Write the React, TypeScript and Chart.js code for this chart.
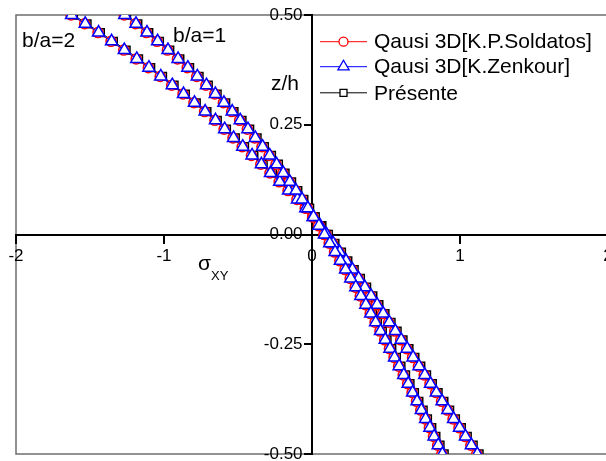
import { useEffect, useRef } from 'react';
import { Chart, registerables } from 'chart.js';

Chart.register(...registerables);

// z/h positions of the markers (top to bottom)
const zH = [0.5, 0.48, 0.46, 0.44, 0.42, 0.4, 0.38, 0.36, 0.34, 0.32, 0.3, 0.28, 0.26, 0.24, 0.22, 0.2, 0.18, 0.16, 0.14, 0.12, 0.1, 0.08, 0.06, 0.04, 0.02, 0, -0.02, -0.04, -0.06, -0.08, -0.1, -0.12, -0.14, -0.16, -0.18, -0.2, -0.22, -0.24, -0.26, -0.28, -0.3, -0.32, -0.34, -0.36, -0.38, -0.4, -0.42, -0.44, -0.46, -0.48, -0.5];

// sigma_xy, b/a = 1
const soldatos1 = [-1.269, -1.193, -1.119, -1.047, -0.977, -0.909, -0.843, -0.779, -0.717, -0.657, -0.599, -0.543, -0.489, -0.437, -0.387, -0.338, -0.29, -0.243, -0.198, -0.154, -0.112, -0.071, -0.032, 0.006, 0.043, 0.08, 0.116, 0.152, 0.188, 0.223, 0.258, 0.292, 0.326, 0.36, 0.393, 0.426, 0.459, 0.491, 0.523, 0.554, 0.585, 0.616, 0.646, 0.676, 0.706, 0.735, 0.764, 0.793, 0.821, 0.849, 0.877];
const zenkour1 = [-1.265, -1.189, -1.115, -1.043, -0.973, -0.905, -0.839, -0.775, -0.713, -0.653, -0.595, -0.539, -0.485, -0.433, -0.383, -0.334, -0.286, -0.239, -0.194, -0.15, -0.108, -0.067, -0.028, 0.01, 0.047, 0.084, 0.12, 0.156, 0.192, 0.227, 0.262, 0.296, 0.33, 0.364, 0.397, 0.43, 0.463, 0.495, 0.527, 0.558, 0.589, 0.62, 0.65, 0.68, 0.71, 0.739, 0.768, 0.797, 0.825, 0.853, 0.881];
const presente1 = [-1.253, -1.177, -1.103, -1.031, -0.961, -0.893, -0.827, -0.763, -0.701, -0.641, -0.583, -0.527, -0.473, -0.421, -0.371, -0.322, -0.274, -0.227, -0.182, -0.138, -0.096, -0.055, -0.016, 0.022, 0.059, 0.096, 0.132, 0.168, 0.204, 0.239, 0.274, 0.308, 0.342, 0.376, 0.409, 0.442, 0.475, 0.507, 0.539, 0.57, 0.601, 0.632, 0.662, 0.692, 0.722, 0.751, 0.78, 0.809, 0.837, 0.865, 0.893];

// sigma_xy, b/a = 2
const soldatos2 = [-1.628, -1.536, -1.446, -1.358, -1.272, -1.188, -1.106, -1.026, -0.948, -0.872, -0.798, -0.726, -0.656, -0.594, -0.534, -0.472, -0.409, -0.346, -0.284, -0.222, -0.162, -0.102, -0.046, 0.004, 0.051, 0.095, 0.139, 0.183, 0.226, 0.269, 0.311, 0.353, 0.395, 0.436, 0.477, 0.518, 0.559, 0.599, 0.639, 0.679, 0.719, 0.758, 0.797, 0.836, 0.875, 0.914, 0.953, 0.993, 1.033, 1.073, 1.113];
const zenkour2 = [-1.624, -1.532, -1.442, -1.354, -1.268, -1.184, -1.102, -1.022, -0.944, -0.868, -0.794, -0.722, -0.652, -0.59, -0.53, -0.468, -0.405, -0.342, -0.28, -0.218, -0.158, -0.098, -0.042, 0.008, 0.055, 0.099, 0.143, 0.187, 0.23, 0.273, 0.315, 0.357, 0.399, 0.44, 0.481, 0.522, 0.563, 0.603, 0.643, 0.683, 0.723, 0.762, 0.801, 0.84, 0.879, 0.918, 0.957, 0.997, 1.037, 1.077, 1.117];
const presente2 = [-1.612, -1.52, -1.43, -1.342, -1.256, -1.172, -1.09, -1.01, -0.932, -0.856, -0.782, -0.71, -0.64, -0.578, -0.518, -0.456, -0.393, -0.33, -0.268, -0.206, -0.146, -0.086, -0.03, 0.02, 0.067, 0.111, 0.155, 0.199, 0.242, 0.285, 0.327, 0.369, 0.411, 0.452, 0.493, 0.534, 0.575, 0.615, 0.655, 0.695, 0.735, 0.774, 0.813, 0.852, 0.891, 0.93, 0.969, 1.009, 1.049, 1.089, 1.129];

const seriesNames = ['Qausi 3D[K.P.Soldatos]', 'Qausi 3D[K.Zenkour]', 'Présente'];
const seriesColors = ['#ff0000', '#0000ff', '#000000'];
const seriesMarkers = ['circle', 'triangle', 'rect'];
const xRange = [-2, 2];
const yRange = [-0.5, 0.5];
const xStep = 1;
const yStep = 0.25;
const curveLabels = ['b/a=2', 'b/a=1'];

const FONT = '"Liberation Sans", Arial, Helvetica, sans-serif';

function pts(vals: number[]) {
  return vals.map((v, i) => ({ x: v, y: zH[i] }));
}

function marker(ctx: CanvasRenderingContext2D, style: string, x: number, y: number, color: string) {
  ctx.save();
  ctx.strokeStyle = color;
  ctx.fillStyle = '#fff';
  ctx.lineWidth = 1.3;
  ctx.beginPath();
  if (style === 'circle') {
    ctx.arc(x, y, 4.5, 0, Math.PI * 2);
  } else if (style === 'triangle') {
    const r = 6.5;
    ctx.moveTo(x, y - r);
    ctx.lineTo(x + r * 0.866, y + r * 0.5);
    ctx.lineTo(x - r * 0.866, y + r * 0.5);
    ctx.closePath();
  } else {
    ctx.rect(x - 3.5, y - 3.5, 7, 7);
  }
  ctx.fill();
  ctx.stroke();
  ctx.restore();
}

const decorPlugin = {
  id: 'decor',
  beforeDraw(chart: any) {
    const { ctx, chartArea: a } = chart;
    ctx.save();
    ctx.strokeStyle = '#6e6e6e';
    ctx.lineWidth = 1.5;
    ctx.strokeRect(a.left, a.top, a.right - a.left, a.bottom - a.top);
    ctx.restore();
  },
  afterDraw(chart: any) {
    const ctx: CanvasRenderingContext2D = chart.ctx;
    ctx.save();
    // legend
    const rows = [41.7, 66.7, 92.8];
    for (let i = 0; i < 3; i++) {
      const y = rows[i];
      ctx.strokeStyle = seriesColors[i];
      ctx.lineWidth = 1;
      ctx.beginPath();
      ctx.moveTo(320, y);
      ctx.lineTo(367, y);
      ctx.stroke();
      marker(ctx, seriesMarkers[i], 343.5, y, seriesColors[i]);
      ctx.fillStyle = '#000';
      ctx.font = `21px ${FONT}`;
      ctx.textBaseline = 'middle';
      ctx.textAlign = 'left';
      ctx.fillText(seriesNames[i], 374, y + 1);
    }
    // annotations
    ctx.fillStyle = '#000';
    ctx.textBaseline = 'alphabetic';
    ctx.font = `21px ${FONT}`;
    ctx.fillText(curveLabels[0], 22, 47);
    ctx.fillText(curveLabels[1], 173, 42);
    ctx.fillText('z/h', 271, 90);
    ctx.fillText('σ', 198, 270);
    ctx.font = `13px ${FONT}`;
    ctx.fillText('XY', 211, 280);
    ctx.restore();
  },
};

function ds(label: string, vals: number[], idx: number, radius: number) {
  return {
    label,
    data: pts(vals),
    showLine: true,
    borderColor: seriesColors[idx],
    borderWidth: 1,
    pointStyle: seriesMarkers[idx],
    pointRadius: radius,
    pointBackgroundColor: '#ffffff',
    pointBorderColor: seriesColors[idx],
    pointBorderWidth: 1.5,
    tension: 0,
    fill: false,
  };
}

export default function App() {
  const ref = useRef<HTMLCanvasElement | null>(null);
  useEffect(() => {
    if (!ref.current) return;
    const chart = new Chart(ref.current, {
      type: 'scatter',
      data: {
        datasets: [
          ds(seriesNames[1] + ' b/a=1', zenkour1, 1, 7),
          ds(seriesNames[1] + ' b/a=2', zenkour2, 1, 7),
          ds(seriesNames[0] + ' b/a=1', soldatos1, 0, 5),
          ds(seriesNames[0] + ' b/a=2', soldatos2, 0, 5),
          ds(seriesNames[2] + ' b/a=1', presente1, 2, 5.5),
          ds(seriesNames[2] + ' b/a=2', presente2, 2, 5.5),
        ] as any,
      },
      options: {
        animation: false,
        responsive: false,
        devicePixelRatio: 1,
        layout: { padding: { left: 16, top: 15, right: 12, bottom: 16 } },
        plugins: { legend: { display: false }, tooltip: { enabled: false } },
        scales: {
          x: {
            type: 'linear',
            min: xRange[0],
            max: xRange[1],
            position: { y: 0 } as any,
            ticks: {
              stepSize: xStep,
              color: '#000',
              padding: 4,
              font: { size: 17, family: FONT },
              callback: (v: any) => String(v),
            },
            grid: { drawOnChartArea: false, drawTicks: true, tickLength: 8, color: '#000', lineWidth: 2 },
            border: { display: true, color: '#000', width: 2 },
          },
          y: {
            type: 'linear',
            min: yRange[0],
            max: yRange[1],
            position: { x: 0 } as any,
            ticks: {
              stepSize: yStep,
              color: '#000',
              padding: 3,
              font: { size: 17, family: FONT },
              // trailing spaces keep the right-aligned label clear of the tick mark
              callback: (v: any) => Number(v).toFixed(2) + '  ',
            },
            grid: { drawOnChartArea: false, drawTicks: true, tickLength: 7, color: '#000', lineWidth: 2 },
            border: { display: true, color: '#000', width: 2 },
          },
        },
      },
      plugins: [decorPlugin],
    });
    return () => chart.destroy();
  }, []);
  return (
    <div style={{ position: 'absolute', left: 0, top: 0, width: 606, height: 461, overflow: 'hidden', background: '#fff' }}>
      <canvas ref={ref} width={620} height={470} style={{ display: 'block' }} />
    </div>
  );
}
